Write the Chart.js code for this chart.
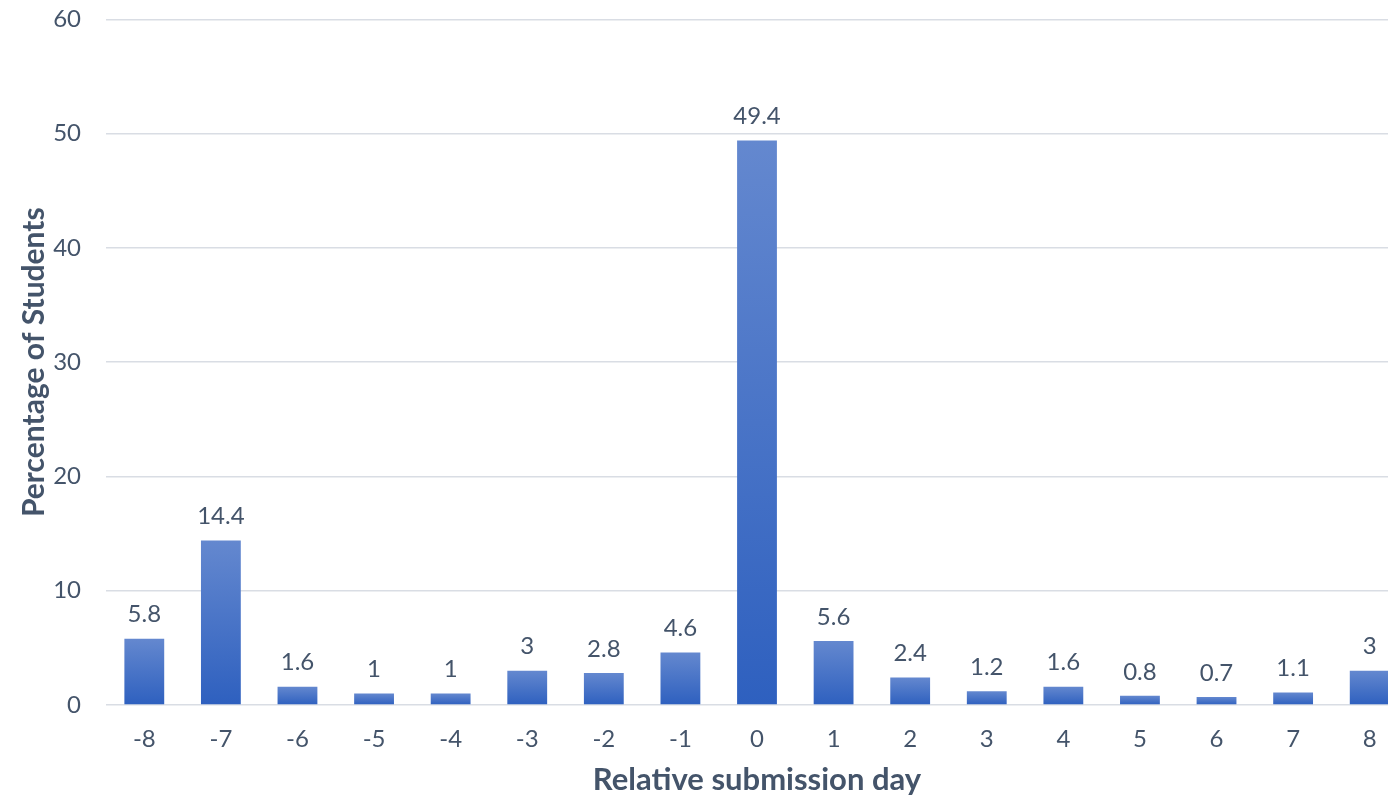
<!DOCTYPE html>
<html>
<head>
<meta charset="utf-8">
<script src="https://cdn.jsdelivr.net/npm/chart.js@4.4.1/dist/chart.umd.min.js"></script>
<style>
  html, body { margin: 0; padding: 0; background: #fff; overflow: hidden; }
  #wrap { width: 1410px; height: 819px; margin-top: -20px; }
</style>
</head>
<body>
<div id="wrap"><canvas id="chart" width="1410" height="819"></canvas></div>
<script>
const days = ['-8', '-7', '-6', '-5', '-4', '-3', '-2', '-1', '0', '1', '2', '3', '4', '5', '6', '7', '8'];
const percentages = [5.8, 14.4, 1.6, 1, 1, 3, 2.8, 4.6, 49.4, 5.6, 2.4, 1.2, 1.6, 0.8, 0.7, 1.1, 3];
const yTicks = [0, 10, 20, 30, 40, 50, 60];

const textColor = '#44546a';
const fontFamily = 'Lato, "Open Sans", sans-serif';

function barGradient(context) {
    const chart = context.chart;
    const yScale = chart.scales.y;
    if (!yScale || context.dataIndex === undefined) return '#4472c4';
    const value = percentages[context.dataIndex];
    const top = yScale.getPixelForValue(value);
    const bottom = yScale.getPixelForValue(0);
    if (!isFinite(top) || !isFinite(bottom) || top === bottom) return '#4472c4';
    const g = chart.ctx.createLinearGradient(0, top, 0, bottom);
    g.addColorStop(0, '#6488cf');
    g.addColorStop(1, '#2e60bf');
    return g;
}

const valueLabels = {
    id: 'valueLabels',
    afterDatasetsDraw(chart) {
        const ctx = chart.ctx;
        const meta = chart.getDatasetMeta(0);
        ctx.save();
        ctx.fillStyle = textColor;
        ctx.font = '24px ' + fontFamily;
        ctx.textAlign = 'center';
        ctx.textBaseline = 'middle';
        meta.data.forEach((bar, i) => {
            ctx.fillText(String(percentages[i]), bar.x, bar.y - 24);
        });
        ctx.restore();
    }
};

new Chart(document.getElementById('chart'), {
    type: 'bar',
    data: {
        labels: days,
        datasets: [{
            data: percentages,
            backgroundColor: barGradient,
            borderWidth: 0,
            barPercentage: 1,
            categoryPercentage: 0.52
        }]
    },
    options: {
        responsive: false,
        animation: false,
        layout: { padding: { top: 0, right: 2, left: 16, bottom: 0 } },
        plugins: {
            legend: { display: false },
            tooltip: { enabled: false }
        },
        scales: {
            x: {
                grid: { display: false },
                border: { display: false },
                ticks: {
                    color: textColor,
                    font: { family: fontFamily, size: 24 },
                    padding: 12
                },
                title: {
                    display: true,
                    text: 'Relative submission day',
                    color: textColor,
                    font: { family: fontFamily, size: 31, weight: 'bold' },
                    padding: { top: 4, bottom: 0 }
                },
                afterFit: s => { s.height = 94; }
            },
            y: {
                min: 0,
                max: 60,
                afterBuildTicks: s => { s.ticks = yTicks.map(v => ({ value: v })); },
                grid: { color: '#d9dde4', lineWidth: 1.5, drawTicks: false },
                border: { display: false },
                ticks: {
                    color: textColor,
                    font: { family: fontFamily, size: 24 },
                    padding: 25
                },
                title: {
                    display: true,
                    text: 'Percentage of Students',
                    color: textColor,
                    font: { family: fontFamily, size: 30, weight: 'bold' },
                    padding: { top: 0, bottom: 4 }
                },
                afterFit: s => { s.width = 90; }
            }
        }
    },
    plugins: [valueLabels]
});
</script>
</body>
</html>
